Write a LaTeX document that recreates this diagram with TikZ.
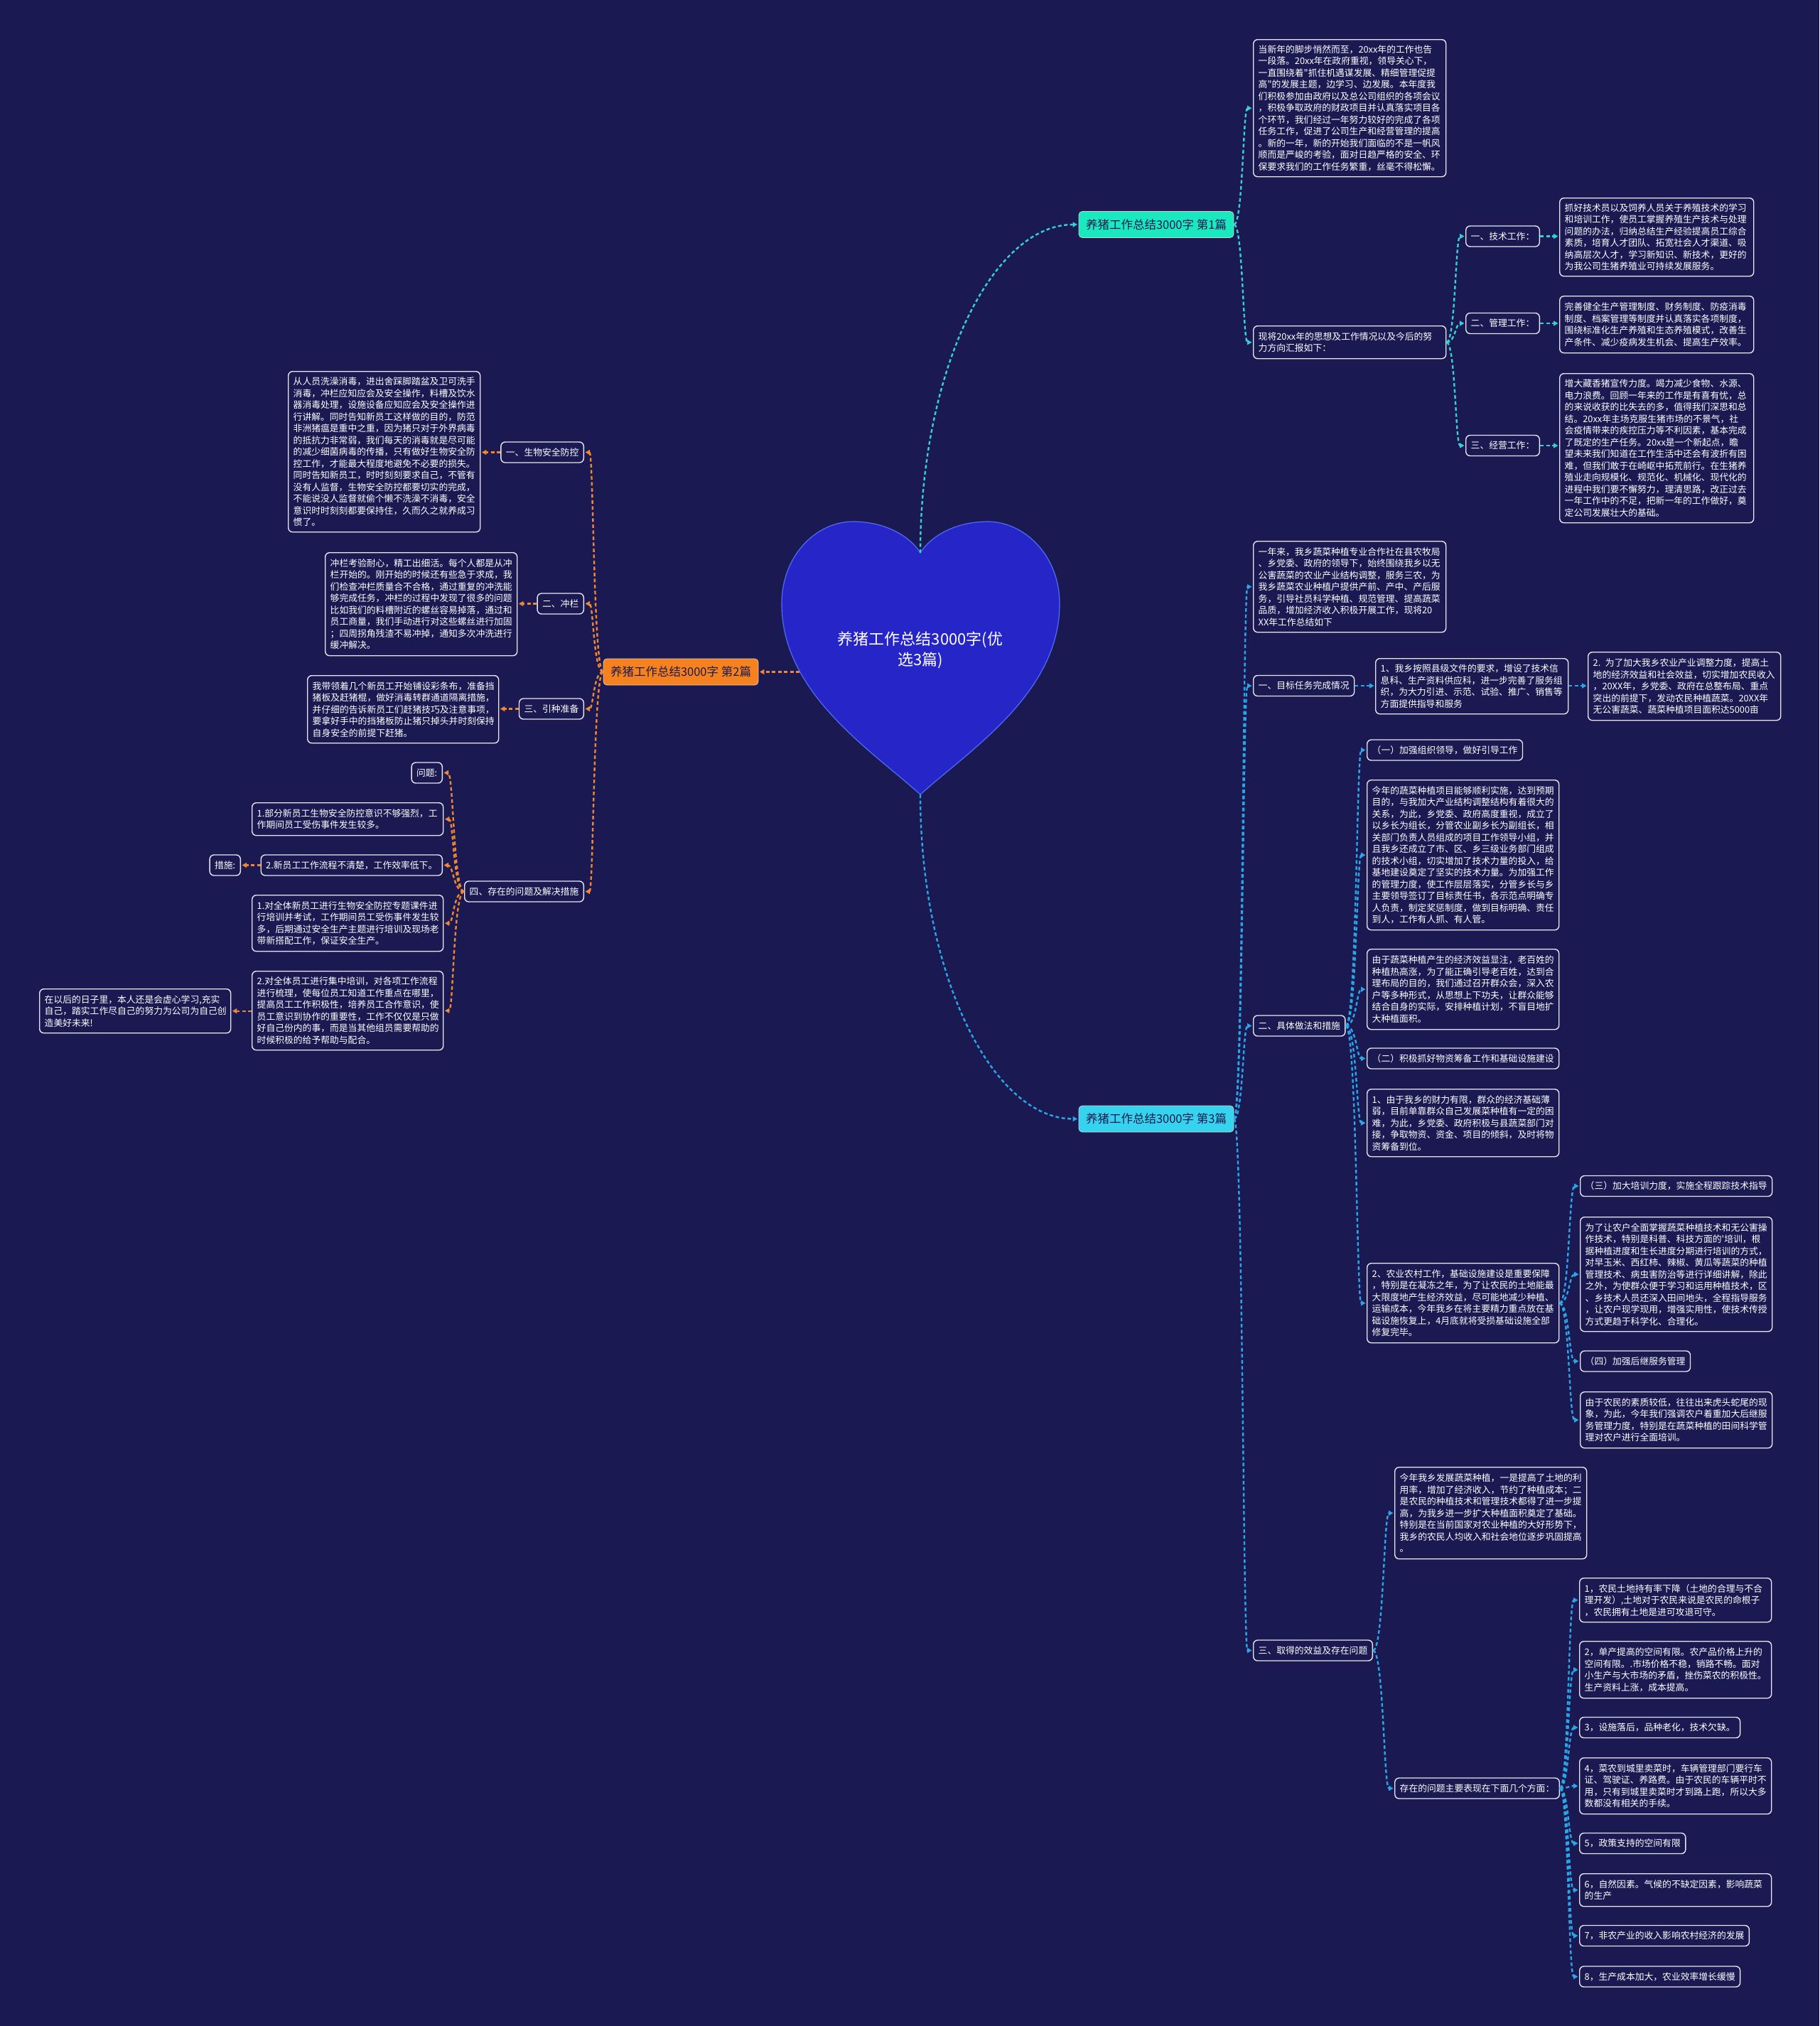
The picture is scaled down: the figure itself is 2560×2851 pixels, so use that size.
\documentclass[tikz,border=0pt]{standalone}
\usepackage{fontspec}
\newfontfamily\cjk{Noto Sans CJK SC}
\usetikzlibrary{arrows.meta,calc}
\definecolor{bg}{HTML}{1A1951}
\definecolor{boxline}{HTML}{E6E6F0}
\definecolor{cteal}{HTML}{35D0CF}
\definecolor{cblue}{HTML}{2AA6E6}
\definecolor{corange}{HTML}{EE8634}
\definecolor{nteal}{HTML}{1AE8BF}
\definecolor{ncyan}{HTML}{35D3EE}
\definecolor{norange}{HTML}{F5821F}
\definecolor{heartfill}{HTML}{2626C8}
\definecolor{heartline}{HTML}{4F6CF5}
\tikzset{
  base/.style={font=\cjk\fontsize{12.8}{16.5}\selectfont, text=white},
  tbox/.style={base, draw=boxline, fill=bg, line width=1.4pt, rounded corners=6pt, align=left, inner xsep=7pt, inner ysep=3pt, anchor=north west},
  lbl/.style={base, draw=boxline, fill=bg, line width=1.4pt, rounded corners=6pt, inner xsep=7pt, inner ysep=0pt, minimum height=29pt},
  lblR/.style={lbl, anchor=west},
  lblL/.style={lbl, anchor=east},
  topn/.style={font=\cjk\fontsize{16.5}{20}\selectfont, text=bg, draw=white!80!black, line width=0.8pt, rounded corners=5pt, minimum width=218pt, minimum height=37pt, inner xsep=6pt},
  conn/.style={dash pattern=on 5pt off 3.5pt, line width=2.4pt, -{Triangle[length=6.5pt,width=7pt]}, shorten >=1.5pt},
  cA/.style={conn, draw=cteal},
  cB/.style={conn, draw=corange},
  cC/.style={conn, draw=cblue}
}
\newcommand\mmconn[4]{\draw[#1] (#2) .. controls (#2 -| #4) and (#3 -| #4) .. (#3);}
\begin{document}
\begin{tikzpicture}[x=1pt,y=-1pt]
\fill[bg] (0,0) rectangle (2560,2851);
\useasboundingbox (0,0) rectangle (2560,2851);

% heart
\path[fill=heartfill, draw=heartline, line width=1.2pt] (1295,1118) .. controls (1225,1055) and (1100,975) .. (1100,850) .. controls (1100,780) and (1150,734) .. (1200,734) .. controls (1250,734) and (1283,758) .. (1295,778) .. controls (1307,758) and (1340,734) .. (1390,734) .. controls (1440,734) and (1491,780) .. (1491,850) .. controls (1491,975) and (1365,1055) .. (1295,1118) -- cycle;
\node[font=\cjk\fontsize{22}{29}\selectfont, text=white, align=center] (heart) at (1295,915) {养猪工作总结3000字(优\\选3篇)};
\coordinate (htop) at (1295,778);
\coordinate (hbot) at (1295,1118);
\coordinate (hleft) at (1125,945.5);

% level 1
\node[topn, fill=nteal] (b1) at (1627,316) {养猪工作总结3000字 第1篇};
\node[topn, fill=norange] (b2) at (958,945.5) {养猪工作总结3000字 第2篇};
\node[topn, fill=ncyan] (b3) at (1627,1574.5) {养猪工作总结3000字 第3篇};

\draw[cA] (htop) .. controls ($(htop)!0.55!(htop |- b1.west)$) and ($(b1.west)!0.55!(htop |- b1.west)$) .. (b1.west);
\draw[cC] (hbot) .. controls ($(hbot)!0.55!(hbot |- b3.west)$) and ($(b3.west)!0.55!(hbot |- b3.west)$) .. (b3.west);
\draw[cB] (hleft) -- (b2.east);

% trunks
\coordinate (T1) at (1749,0);
\coordinate (T1b) at (2048,0);
\coordinate (T2) at (835,0);
\coordinate (T2d) at (638,0);
\coordinate (T3) at (1749,0);
\coordinate (T3c) at (1909,0);
\coordinate (T3c6) at (2208,0);
\coordinate (T3d) at (1947,0);
\coordinate (T3d2) at (2207,0);

% ================= branch 1
\node[tbox, text width=257pt, minimum height=193pt] (b1a) at (1763,55) {当新年的脚步悄然而至，20xx年的工作也告\\一段落。20xx年在政府重视，领导关心下，\\一直围绕着"抓住机遇谋发展、精细管理促提\\高"的发展主题，边学习、边发展。本年度我\\们积极参加由政府以及总公司组织的各项会议\\，积极争取政府的财政项目并认真落实项目各\\个环节，我们经过一年努力较好的完成了各项\\任务工作，促进了公司生产和经营管理的提高\\。新的一年，新的开始我们面临的不是一帆风\\顺而是严峻的考验，面对日趋严格的安全、环\\保要求我们的工作任务繁重，丝毫不得松懈。};
\node[tbox, text width=257pt, minimum height=46pt] (b1b) at (1763,458) {现将20xx年的思想及工作情况以及今后的努\\力方向汇报如下：};
\node[lblR] (b1t) at (2062,332.5) {一、技术工作：};
\node[tbox, text width=259pt, minimum height=110pt] (b1tt) at (2194,278) {抓好技术员以及饲养人员关于养殖技术的学习\\和培训工作，使员工掌握养殖生产技术与处理\\问题的办法，归纳总结生产经验提高员工综合\\素质，培育人才团队、拓宽社会人才渠道、吸\\纳高层次人才，学习新知识、新技术，更好的\\为我公司生猪养殖业可持续发展服务。};
\node[lblR] (b1m) at (2062,455) {二、管理工作：};
\node[tbox, text width=259pt, minimum height=80pt] (b1mt) at (2194,416) {完善健全生产管理制度、财务制度、防疫消毒\\制度、档案管理等制度并认真落实各项制度，\\围绕标准化生产养殖和生态养殖模式，改善生\\产条件、减少疫病发生机会、提高生产效率。};
\node[lblR] (b1s) at (2062,627) {三、经营工作：};
\node[tbox, text width=259pt, minimum height=210pt] (b1st) at (2194,525) {增大藏香猪宣传力度。竭力减少食物、水源、\\电力浪费。回顾一年来的工作是有喜有忧，总\\的来说收获的比失去的多，值得我们深思和总\\结。20xx年主场克服生猪市场的不景气，社\\会疫情带来的疾控压力等不利因素，基本完成\\了既定的生产任务。20xx是一个新起点，瞻\\望未来我们知道在工作生活中还会有波折有困\\难，但我们敢于在崎岖中拓荒前行。在生猪养\\殖业走向规模化、规范化、机械化、现代化的\\进程中我们要不懈努力，理清思路，改正过去\\一年工作中的不足，把新一年的工作做好，奠\\定公司发展壮大的基础。};

\mmconn{cA}{b1.east}{b1a.west}{T1}
\mmconn{cA}{b1.east}{b1b.west}{T1}
\mmconn{cA}{b1b.east}{b1t.west}{T1b}
\mmconn{cA}{b1b.east}{b1m.west}{T1b}
\mmconn{cA}{b1b.east}{b1s.west}{T1b}
\draw[cA] (b1t.east) -- (b1t.east -| b1tt.west);
\draw[cA] (b1m.east) -- (b1m.east -| b1mt.west);
\draw[cA] (b1s.east) -- (b1s.east -| b1st.west);

% ================= branch 2
\node[lblL] (b2a) at (822,636.5) {一、生物安全防控};
\node[tbox, text width=256pt, minimum height=226pt] (b2at) at (405,522) {从人员洗澡消毒，进出舍踩脚踏盆及卫可洗手\\消毒，冲栏应知应会及安全操作，料槽及饮水\\器消毒处理，设施设备应知应会及安全操作进\\行讲解。同时告知新员工这样做的目的，防范\\非洲猪瘟是重中之重，因为猪只对于外界病毒\\的抵抗力非常弱，我们每天的消毒就是尽可能\\的减少细菌病毒的传播，只有做好生物安全防\\控工作，才能最大程度地避免不必要的损失。\\同时告知新员工，时时刻刻要求自己，不管有\\没有人监督，生物安全防控都要切实的完成，\\不能说没人监督就偷个懒不洗澡不消毒，安全\\意识时时刻刻都要保持住，久而久之就养成习\\惯了。};
\node[lblL] (b2b) at (822,849.5) {二、冲栏};
\node[tbox, text width=256pt, minimum height=145pt] (b2bt) at (457,777) {冲栏考验耐心，精工出细活。每个人都是从冲\\栏开始的。刚开始的时候还有些急于求成，我\\们检查冲栏质量合不合格，通过重复的冲洗能\\够完成任务，冲栏的过程中发现了很多的问题\\比如我们的料槽附近的螺丝容易掉落，通过和\\员工商量，我们手动进行对这些螺丝进行加固\\；四周拐角残渣不易冲掉，通知多次冲洗进行\\缓冲解决。};
\node[lblL] (b2c) at (822,997.5) {三、引种准备};
\node[tbox, text width=255pt, minimum height=95pt] (b2ct) at (432,950) {我带领着几个新员工开始铺设彩条布，准备挡\\猪板及赶猪棍，做好消毒转群通道隔离措施，\\并仔细的告诉新员工们赶猪技巧及注意事项，\\要拿好手中的挡猪板防止猪只掉头并时刻保持\\自身安全的前提下赶猪。};
\node[lblL] (b2d) at (822,1254.5) {四、存在的问题及解决措施};
\node[lblL] (q) at (623,1087.5) {问题:};
\node[tbox, text width=255pt, minimum height=46pt] (q1) at (354,1129) {1.部分新员工生物安全防控意识不够强烈，工\\作期间员工受伤事件发生较多。};
\node[lblL] (q2) at (623,1217.5) {2.新员工工作流程不清楚，工作效率低下。};
\node[lblL] (cs) at (339,1217.5) {措施:};
\node[tbox, text width=255pt, minimum height=79pt] (s1) at (354,1259) {1.对全体新员工进行生物安全防控专题课件进\\行培训并考试，工作期间员工受伤事件发生较\\多，后期通过安全生产主题进行培训及现场老\\带新搭配工作，保证安全生产。};
\node[tbox, text width=255pt, minimum height=111pt] (s2) at (354,1366) {2.对全体员工进行集中培训，对各项工作流程\\进行梳理，使每位员工知道工作重点在哪里，\\提高员工工作积极性，培养员工合作意识，使\\员工意识到协作的重要性，工作不仅仅是只做\\好自己份内的事，而是当其他组员需要帮助的\\时候积极的给予帮助与配合。};
\node[tbox, text width=255pt, minimum height=62pt] (fut) at (55,1391) {在以后的日子里，本人还是会虚心学习,充实\\自己，踏实工作尽自己的努力为公司为自己创\\造美好未来!};

\mmconn{cB}{b2.west}{b2a.east}{T2}
\mmconn{cB}{b2.west}{b2b.east}{T2}
\mmconn{cB}{b2.west}{b2c.east}{T2}
\mmconn{cB}{b2.west}{b2d.east}{T2}
\draw[cB] (b2a.west) -- (b2a.west -| b2at.east);
\draw[cB] (b2b.west) -- (b2b.west -| b2bt.east);
\draw[cB] (b2c.west) -- (b2c.west -| b2ct.east);
\mmconn{cB}{b2d.west}{q.east}{T2d}
\mmconn{cB}{b2d.west}{q1.east}{T2d}
\mmconn{cB}{b2d.west}{q2.east}{T2d}
\mmconn{cB}{b2d.west}{s1.east}{T2d}
\mmconn{cB}{b2d.west}{s2.east}{T2d}
\draw[cB] (q2.west) -- (cs.east);
\draw[cB] (s2.west |- fut.east) -- (fut.east);

% ================= branch 3
\node[tbox, text width=257pt, minimum height=128pt] (b3a) at (1763,761) {一年来，我乡蔬菜种植专业合作社在县农牧局\\、乡党委、政府的领导下，始终围绕我乡以无\\公害蔬菜的农业产业结构调整，服务三农，为\\我乡蔬菜农业种植户提供产前、产中、产后服\\务，引导社员科学种植、规范管理、提高蔬菜\\品质，增加经济收入积极开展工作，现将20\\XX年工作总结如下};
\node[lblR] (b3b) at (1763,965) {一、目标任务完成情况};
\node[tbox, text width=257pt, minimum height=78pt] (b3b1) at (1935,926) {1、我乡按照县级文件的要求，增设了技术信\\息科、生产资料供应科，进一步完善了服务组\\织，为大力引进、示范、试验、推广、销售等\\方面提供指导和服务};
\node[tbox, text width=257pt, minimum height=96pt] (b3b2) at (2234,917) {2. 为了加大我乡农业产业调整力度，提高土\\地的经济效益和社会效益，切实增加农民收入\\，20XX年，乡党委、政府在总整布局、重点\\突出的前提下，发动农民种植蔬菜。20XX年\\无公害蔬菜、蔬菜种植项目面积达5000亩};
\node[lblR] (b3c) at (1763,1443.5) {二、具体做法和措施};
\node[lblR] (c1) at (1923,1055.5) {（一）加强组织领导，做好引导工作};
\node[tbox, text width=256pt, minimum height=211pt] (c2) at (1923,1097) {今年的蔬菜种植项目能够顺利实施，达到预期\\目的，与我加大产业结构调整结构有着很大的\\关系，为此，乡党委、政府高度重视，成立了\\以乡长为组长，分管农业副乡长为副组长，相\\关部门负责人员组成的项目工作领导小组，并\\且我乡还成立了市、区、乡三级业务部门组成\\的技术小组，切实增加了技术力量的投入，给\\基地建设奠定了坚实的技术力量。为加强工作\\的管理力度，使工作层层落实，分管乡长与乡\\主要领导签订了目标责任书，各示范点明确专\\人负责，制定奖惩制度，做到目标明确、责任\\到人，工作有人抓、有人管。};
\node[tbox, text width=256pt, minimum height=113pt] (c3) at (1923,1335) {由于蔬菜种植产生的经济效益显注，老百姓的\\种植热高涨，为了能正确引导老百姓，达到合\\理布局的目的，我们通过召开群众会，深入农\\户等多种形式，从思想上下功夫，让群众能够\\结合自身的实际，安排种植计划，不盲目地扩\\大种植面积。};
\node[lblR] (c4) at (1923,1489.5) {（二）积极抓好物资筹备工作和基础设施建设};
\node[tbox, text width=256pt, minimum height=95pt] (c5) at (1923,1532) {1、由于我乡的财力有限，群众的经济基础薄\\弱，目前单靠群众自己发展菜种植有一定的困\\难，为此，乡党委、政府积极与县蔬菜部门对\\接，争取物资、资金、项目的倾斜，及时将物\\资筹备到位。};
\node[tbox, text width=256pt, minimum height=112pt] (c6) at (1923,1777) {2、农业农村工作，基础设施建设是重要保障\\，特别是在凝冻之年，为了让农民的土地能最\\大限度地产生经济效益，尽可能地减少种植、\\运输成本，今年我乡在将主要精力重点放在基\\础设施恢复上，4月底就将受损基础设施全部\\修复完毕。};
\node[lblR] (c6a) at (2223,1669) {（三）加大培训力度，实施全程跟踪技术指导};
\node[tbox, text width=256pt, minimum height=161pt] (c6b) at (2223,1712) {为了让农户全面掌握蔬菜种植技术和无公害操\\作技术，特别是科普、科技方面的'培训，根\\据种植进度和生长进度分期进行培训的方式，\\对早玉米、西红柿、辣椒、黄瓜等蔬菜的种植\\管理技术、病虫害防治等进行详细讲解，除此\\之外，为使群众便于学习和运用种植技术，区\\、乡技术人员还深入田间地头，全程指导服务\\，让农户现学现用，增强实用性，使技术传授\\方式更趋于科学化、合理化。};
\node[lblR] (c6c) at (2223,1915.5) {（四）加强后继服务管理};
\node[tbox, text width=256pt, minimum height=79pt] (c6d) at (2223,1958) {由于农民的素质较低，往往出来虎头蛇尾的现\\象，为此，今年我们强调农户着重加大后继服\\务管理力度，特别是在蔬菜种植的田间科学管\\理对农户进行全面培训。};
\node[lblR] (b3d) at (1763,2322.5) {三、取得的效益及存在问题};
\node[tbox, text width=256pt, minimum height=129pt] (d1) at (1962,2064) {今年我乡发展蔬菜种植，一是提高了土地的利\\用率，增加了经济收入，节约了种植成本；二\\是农民的种植技术和管理技术都得了进一步提\\高，为我乡进一步扩大种植面积奠定了基础。\\特别是在当前国家对农业种植的大好形势下，\\我乡的农民人均收入和社会地位逐步巩固提高\\。};
\node[lblR] (d2) at (1962,2516.5) {存在的问题主要表现在下面几个方面：};
\node[tbox, text width=256pt, minimum height=62pt] (p1) at (2222,2220) {1，农民土地持有率下降（土地的合理与不合\\理开发）,土地对于农民来说是农民的命根子\\，农民拥有土地是进可攻退可守。};
\node[tbox, text width=256pt, minimum height=80pt] (p2) at (2222,2309) {2，单产提高的空间有限。农产品价格上升的\\空间有限。.市场价格不稳，销路不畅。面对\\小生产与大市场的矛盾，挫伤菜农的积极性。\\生产资料上涨，成本提高。};
\node[lblR] (p3) at (2222,2431) {3，设施落后，品种老化，技术欠缺。};
\node[tbox, text width=256pt, minimum height=79pt] (p4) at (2222,2473) {4，菜农到城里卖菜时，车辆管理部门要行车\\证、驾驶证、养路费。由于农民的车辆平时不\\用，只有到城里卖菜时才到路上跑，所以大多\\数都没有相关的手续。};
\node[lblR] (p5) at (2222,2594) {5，政策支持的空间有限};
\node[tbox, text width=256pt, minimum height=46pt] (p6) at (2222,2636) {6，自然因素。气候的不缺定因素，影响蔬菜\\的生产};
\node[lblR] (p7) at (2222,2724) {7，非农产业的收入影响农村经济的发展};
\node[lblR] (p8) at (2222,2781.5) {8，生产成本加大，农业效率增长缓慢};

\mmconn{cC}{b3.east}{b3a.west}{T3}
\mmconn{cC}{b3.east}{b3b.west}{T3}
\mmconn{cC}{b3.east}{b3c.west}{T3}
\mmconn{cC}{b3.east}{b3d.west}{T3}
\draw[cC] (b3b.east) -- (b3b.east -| b3b1.west);
\draw[cC] (b3b1.east |- b3b.east) -- (b3b.east -| b3b2.west);
\mmconn{cC}{b3c.east}{c1.west}{T3c}
\mmconn{cC}{b3c.east}{c2.west}{T3c}
\mmconn{cC}{b3c.east}{c3.west}{T3c}
\mmconn{cC}{b3c.east}{c4.west}{T3c}
\mmconn{cC}{b3c.east}{c5.west}{T3c}
\mmconn{cC}{b3c.east}{c6.west}{T3c}
\mmconn{cC}{c6.east}{c6a.west}{T3c6}
\mmconn{cC}{c6.east}{c6b.west}{T3c6}
\mmconn{cC}{c6.east}{c6c.west}{T3c6}
\mmconn{cC}{c6.east}{c6d.west}{T3c6}
\mmconn{cC}{b3d.east}{d1.west}{T3d}
\mmconn{cC}{b3d.east}{d2.west}{T3d}
\mmconn{cC}{d2.east}{p1.west}{T3d2}
\mmconn{cC}{d2.east}{p2.west}{T3d2}
\mmconn{cC}{d2.east}{p3.west}{T3d2}
\mmconn{cC}{d2.east}{p4.west}{T3d2}
\mmconn{cC}{d2.east}{p5.west}{T3d2}
\mmconn{cC}{d2.east}{p6.west}{T3d2}
\mmconn{cC}{d2.east}{p7.west}{T3d2}
\mmconn{cC}{d2.east}{p8.west}{T3d2}
\end{tikzpicture}
\end{document}
